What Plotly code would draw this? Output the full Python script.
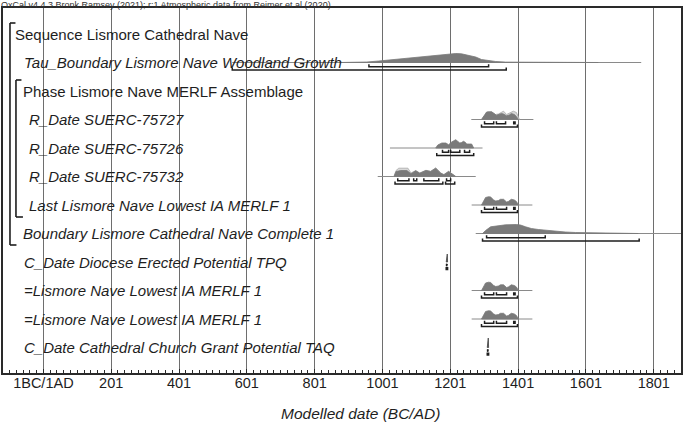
import plotly.graph_objects as go

# ---------------- data ----------------
row_labels = [
    "Sequence Lismore Cathedral Nave",
    "<i>Tau_Boundary Lismore Nave Woodland Growth</i>",
    "Phase Lismore Nave MERLF Assemblage",
    "<i>R_Date SUERC-75727</i>",
    "<i>R_Date SUERC-75726</i>",
    "<i>R_Date SUERC-75732</i>",
    "<i>Last Lismore Nave Lowest IA MERLF 1</i>",
    "<i>Boundary Lismore Cathedral Nave Complete 1</i>",
    "<i>C_Date Diocese Erected Potential TPQ</i>",
    "<i>=Lismore Nave Lowest IA MERLF 1</i>",
    "<i>=Lismore Nave Lowest IA MERLF 1</i>",
    "<i>C_Date Cathedral Church Grant Potential TAQ</i>",
]
label_indent_px = [13, 22, 21, 27, 27, 27, 27, 21, 22, 22, 22, 22]

tick_years = [1, 201, 401, 601, 801, 1001, 1201, 1401, 1601, 1801]
tick_text = ["1BC/1AD", "201", "401", "601", "801", "1001", "1201", "1401", "1601", "1801"]

# Tau_Boundary (row 1)
tau_years = [873, 955, 990, 1034, 1079, 1128, 1167, 1196, 1217, 1234, 1255, 1276, 1293, 1314, 1335, 1364, 1431, 1531, 1637]
tau_prob = [0, 0.05, 0.15, 0.3, 0.4, 0.55, 0.7, 0.85, 0.9, 0.87, 0.73, 0.55, 0.3, 0.18, 0.1, 0.04, 0.015, 0.005, 0]
tau_span = [558, 1764]
tau_r68 = [[961, 1314]]
tau_r95 = [[558, 1366]]

# R_Date SUERC-75727 (row 3)
d27_years = [1293, 1299, 1308, 1323, 1331, 1337, 1352, 1358, 1367, 1375, 1381, 1390, 1396, 1402]
d27_post = [0, 0.3, 0.75, 0.77, 0.55, 0.43, 0.6, 0.55, 0.37, 0.45, 0.6, 0.5, 0.3, 0]
d27_prior_years = [1293, 1302, 1311, 1323, 1334, 1343, 1358, 1367, 1375, 1387, 1396, 1405]
d27_prior = [0, 0.4, 0.77, 0.75, 0.5, 0.55, 0.83, 0.5, 0.6, 0.83, 0.7, 0]
d27_span = [1263, 1446]
d27_r68 = [[1302, 1329], [1337, 1364], [1388, 1392]]
d27_r95 = [[1293, 1399]]

# R_Date SUERC-75726 (row 4)
d26_years = [1158, 1164, 1176, 1188, 1196, 1205, 1217, 1223, 1229, 1234, 1240, 1246, 1249, 1258, 1264, 1270]
d26_post = [0, 0.3, 0.5, 0.5, 0.33, 0.6, 0.83, 0.7, 0.5, 0.55, 0.67, 0.55, 0.4, 0.4, 0.4, 0]
d26_span = [1023, 1296]
d26_r68 = [[1178, 1196], [1202, 1229], [1243, 1258]]
d26_r95 = [[1161, 1270]]

# R_Date SUERC-75732 (row 5)
d32_years = [1035, 1041, 1055, 1073, 1085, 1099, 1111, 1129, 1143, 1158, 1173, 1182, 1196, 1205, 1217]
d32_post = [0, 0.5, 0.6, 0.6, 0.27, 0.57, 0.33, 0.6, 0.5, 0.83, 0.33, 0.17, 0.5, 0.27, 0]
d32_prior_years = [1035, 1041, 1049, 1076, 1085, 1099, 1111, 1129, 1143, 1158, 1173, 1182, 1196, 1205, 1217]
d32_prior = [0, 0.6, 0.83, 0.83, 0.35, 0.6, 0.35, 0.62, 0.52, 0.85, 0.35, 0.2, 0.52, 0.3, 0]
d32_span = [987, 1276]
d32_r68 = [[1046, 1079], [1093, 1102], [1123, 1167], [1190, 1202]]
d32_r95 = [[1038, 1179], [1187, 1214]]

# Last Lismore Nave Lowest IA MERLF 1 (rows 6, 9, 10)
last_years = [1293, 1299, 1305, 1314, 1320, 1329, 1335, 1343, 1349, 1358, 1367, 1372, 1381, 1390, 1396, 1402]
last_prob = [0, 0.4, 0.75, 0.83, 0.8, 0.5, 0.4, 0.45, 0.57, 0.57, 0.3, 0.35, 0.57, 0.5, 0.35, 0]
last_span = [1264, 1443]
last_r68 = [[1302, 1329], [1337, 1367], [1388, 1392]]
last_r95 = [[1293, 1399]]

# Boundary Lismore Cathedral Nave Complete 1 (row 7)
bnd_years = [1296, 1305, 1320, 1343, 1364, 1396, 1408, 1423, 1440, 1461, 1481, 1511, 1540, 1570, 1628, 1687, 1755]
bnd_prob = [0, 0.3, 0.67, 0.75, 0.87, 0.9, 0.85, 0.67, 0.5, 0.4, 0.32, 0.23, 0.15, 0.1, 0.05, 0.03, 0]
bnd_span = [1276, 1900]
bnd_r68 = [[1308, 1481]]
bnd_r95 = [[1296, 1758]]

# C_Date TPQ (row 8) and TAQ (row 11)
tpq_years = [1189, 1190, 1192, 1193]
tpq_prob = [0, 0.8, 0.8, 0]
tpq_r68 = [[1190, 1192]]
tpq_r95 = [[1189, 1193]]
taq_years = [1310, 1311, 1313, 1314]
taq_prob = [0, 0.95, 0.95, 0]
taq_r68 = [[1311, 1313]]
taq_r95 = [[1310, 1314]]

# ---------------- layout constants ----------------
W, H = 685, 423
ML, MR, MT, MB = 3, 2, 8, 50
ROW0_PX, ROW_PX = 34.0, 28.5
PLOT_W = W - ML - MR
PLOT_H = H - MT - MB
X0_PX, PX_PER_YR = 43.5, 0.3401
x_lo = (ML - X0_PX) / PX_PER_YR + 1
x_hi = (W - MR - X0_PX) / PX_PER_YR + 1
y_top = (MT - ROW0_PX) / ROW_PX
y_bot = (H - MB - ROW0_PX) / ROW_PX
HMAX = 10.0 / ROW_PX
OFF68, OFF95, TICK = 4.2 / ROW_PX, 7.4 / ROW_PX, 2.5 / ROW_PX

DARK = "#7a7a7a"
LIGHT = "#d9d9d9"
BASE = "#8a8a8a"
INK = "#1e1e1e"
FONT = "Liberation Sans, Arial, sans-serif"

fig = go.Figure()


def add_dist(years, probs, row, fill, line):
    xs = list(years) + [years[-1], years[0]]
    ys = [row - p * HMAX for p in probs] + [row, row]
    fig.add_trace(go.Scatter(x=xs, y=ys, mode="lines", fill="toself", fillcolor=fill,
                             line=dict(color=line, width=0.8), hoverinfo="skip", showlegend=False))


def add_base(span, row):
    fig.add_trace(go.Scatter(x=span, y=[row, row], mode="lines",
                             line=dict(color=BASE, width=1), hoverinfo="skip", showlegend=False))


def add_ranges(ranges, row, off):
    xs, ys = [], []
    yy = row + off
    for a, b in ranges:
        xs += [a, a, b, b, None]
        ys += [yy - TICK, yy, yy, yy - TICK, None]
    fig.add_trace(go.Scatter(x=xs, y=ys, mode="lines", line=dict(color=INK, width=1.5),
                             hoverinfo="skip", showlegend=False))


# Tau
add_base(tau_span, 1)
add_dist(tau_years, tau_prob, 1, DARK, DARK)
add_ranges(tau_r68, 1, OFF68)
add_ranges(tau_r95, 1, OFF95)

# 75727
add_base(d27_span, 3)
add_dist(d27_prior_years, d27_prior, 3, LIGHT, "#a8a8a8")
add_dist(d27_years, d27_post, 3, DARK, DARK)
add_ranges(d27_r68, 3, OFF68)
add_ranges(d27_r95, 3, OFF95)

# 75726
add_base(d26_span, 4)
add_dist(d26_years, d26_post, 4, DARK, DARK)
add_ranges(d26_r68, 4, OFF68)
add_ranges(d26_r95, 4, OFF95)

# 75732
add_base(d32_span, 5)
add_dist(d32_prior_years, d32_prior, 5, LIGHT, "#a8a8a8")
add_dist(d32_years, d32_post, 5, DARK, DARK)
add_ranges(d32_r68, 5, OFF68)
add_ranges(d32_r95, 5, OFF95)

# Last + two cross-references
for r in (6, 9, 10):
    add_base(last_span, r)
    add_dist(last_years, last_prob, r, DARK, DARK)
    add_ranges(last_r68, r, OFF68)
    add_ranges(last_r95, r, OFF95)

# Boundary complete
add_base(bnd_span, 7)
add_dist(bnd_years, bnd_prob, 7, DARK, DARK)
add_ranges(bnd_r68, 7, OFF68)
add_ranges(bnd_r95, 7, OFF95)

# C_Dates
add_dist(tpq_years, tpq_prob, 8, "#444444", "#444444")
add_ranges(tpq_r68, 8, OFF68)
add_ranges(tpq_r95, 8, OFF95)
add_dist(taq_years, taq_prob, 11, "#444444", "#444444")
add_ranges(taq_r68, 11, OFF68)
add_ranges(taq_r95, 11, OFF95)

# row labels
for i, (lab, ind) in enumerate(zip(row_labels, label_indent_px)):
    fig.add_annotation(x=(ind - ML) / PLOT_W, xref="paper", y=i, yref="y", text=lab,
                       showarrow=False, xanchor="left", yanchor="middle",
                       font=dict(family=FONT, size=15, color=INK))


# structure brackets (Sequence / Phase)
def px_to_paper_x(px):
    return (px - ML) / PLOT_W


def px_to_row(py):
    return (py - ROW0_PX) / ROW_PX


for xv, ytop, ybot, tick_top, tick_bot in [(10, 23, 245, 15.5, 16.5), (16, 80, 217, 21.5, 23)]:
    xp = px_to_paper_x(xv)
    fig.add_shape(type="line", xref="paper", yref="y", x0=xp, x1=xp,
                  y0=px_to_row(ytop), y1=px_to_row(ybot), line=dict(color=INK, width=1.6))
    fig.add_shape(type="line", xref="paper", yref="y", x0=xp, x1=px_to_paper_x(tick_top),
                  y0=px_to_row(ytop), y1=px_to_row(ytop), line=dict(color=INK, width=1.6))
    fig.add_shape(type="line", xref="paper", yref="y", x0=xp, x1=px_to_paper_x(tick_bot),
                  y0=px_to_row(ybot), y1=px_to_row(ybot), line=dict(color=INK, width=1.6))

# header and axis title
fig.add_annotation(x=(0 - ML) / PLOT_W, xref="paper", y=(H - MB - 5) / PLOT_H, yref="paper",
                   text="OxCal v4.4.3 Bronk Ramsey (2021); r:1 Atmospheric data from Reimer et al (2020)",
                   showarrow=False, xanchor="left", yanchor="middle", borderpad=0,
                   font=dict(family=FONT, size=9, color="#333333"))
fig.add_annotation(x=(362 - ML) / PLOT_W, xref="paper", y=(H - MB - 413) / PLOT_H, yref="paper",
                   text="<i>Modelled date (BC/AD)</i>", showarrow=False,
                   xanchor="center", yanchor="middle",
                   font=dict(family=FONT, size=15.5, color=INK))

fig.update_layout(
    width=W, height=H,
    margin=dict(l=ML, r=MR, t=MT, b=MB, pad=0),
    paper_bgcolor="white", plot_bgcolor="white",
    showlegend=False,
    xaxis=dict(range=[x_lo, x_hi], tickmode="array", tickvals=tick_years, ticktext=tick_text,
               showgrid=True, gridcolor="#6e6e6e", gridwidth=1.2, zeroline=False,
               showline=True, linecolor="#2a2a2a", linewidth=1.6, mirror=True,
               ticks="inside", ticklen=4, tickcolor="#2a2a2a", ticklabelstandoff=-4,
               tickfont=dict(family=FONT, size=14.5, color=INK),
               minor=dict(tickmode="linear", tick0=1, dtick=20, ticks="inside", ticklen=3,
                          tickcolor="#2a2a2a", tickwidth=1, showgrid=False)),
    yaxis=dict(range=[y_bot, y_top], showgrid=False, zeroline=False, showticklabels=False,
               showline=True, linecolor="#2a2a2a", linewidth=1.6, mirror=True, ticks=""),
)

fig.write_html(
    "out.html",
    config={"displayModeBar": False},
    post_script="document.body.style.margin='0';document.body.style.padding='0';"
                "document.body.style.overflow='hidden';",
)
